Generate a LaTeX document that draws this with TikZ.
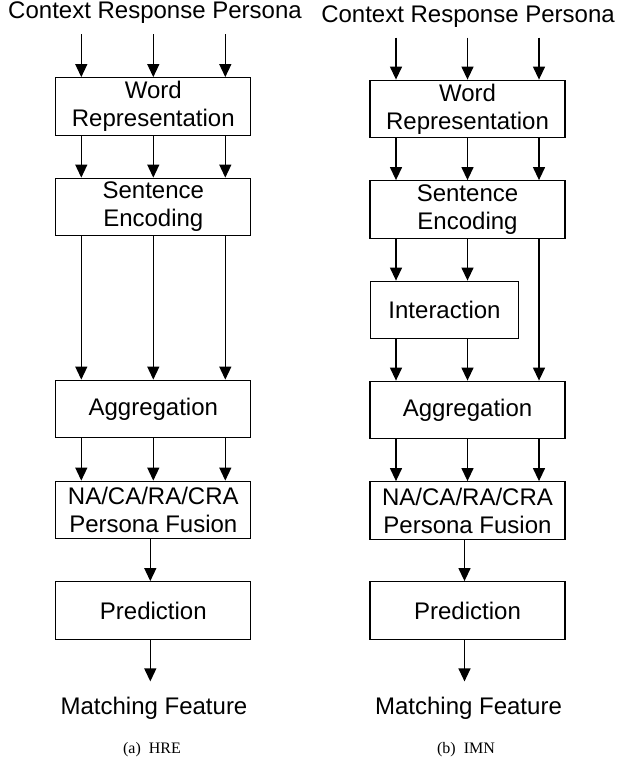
\documentclass[tikz,border=0pt]{standalone}
\usepackage{fontspec}
\setmainfont{Liberation Sans}
\newfontfamily\capfont{Liberation Serif}
\usetikzlibrary{arrows.meta}

\begin{document}
\begin{tikzpicture}
[x=1pt,y=-1pt,
 blk/.style={shape=rectangle,draw,line width=1.3pt,minimum height=57.5pt,inner sep=0pt,align=center,font=\fontsize{24}{28}\selectfont},
 wide/.style={blk,minimum width=195pt},
 twoline/.style={wide,execute at begin node={\rule{0pt}{21.5pt}}},
 lbl/.style={anchor=base,inner sep=0pt,inner ysep=10pt,font=\fontsize{24}{28}\selectfont},
 subcap/.style={anchor=base,inner sep=0pt,font=\capfont\fontsize{16}{19}\selectfont},
 flow/.style={line width=1.3pt,-{Triangle[length=13pt,width=12pt]}}]

\useasboundingbox (0,0) rectangle (619,765);

\draw (155,19) node (inl) [lbl] {Context Response Persona};
\draw (153.3,106.5) node (wl) [twoline] {Word\\Representation};
\draw (153.3,207) node (sl) [twoline] {Sentence\\Encoding};
\draw (153.3,409) node (al) [wide] {Aggregation};
\draw (153.3,510) node (fl) [twoline] {NA/CA/RA/CRA\\Persona Fusion};
\draw (153.3,610.5) node (pl) [wide] {Prediction};
\draw (154,714) node (ml) [lbl,inner ysep=15pt] {Matching Feature};
\draw (152,753) node (capl) [subcap] {(a)\enspace HRE};

\foreach \dx in {-72,0,72} {
  \draw [flow] ([xshift=\dx pt]wl.north |- inl.south) -- ([xshift=\dx pt]wl.north);
  \draw [flow] ([xshift=\dx pt]wl.south) -- ([xshift=\dx pt]sl.north);
  \draw [flow] ([xshift=\dx pt]sl.south) -- ([xshift=\dx pt]al.north);
  \draw [flow] ([xshift=\dx pt]al.south) -- ([xshift=\dx pt]fl.north);
}
\draw [flow] ([xshift=-3pt]fl.south) -- ([xshift=-3pt]pl.north);
\draw [flow] ([xshift=-3pt]pl.south) -- ([xshift=-3pt]pl.south |- ml.north);

\draw (468,22.5) node (inr) [lbl] {Context Response Persona};
\draw (467.5,109) node (wr) [twoline] {Word\\Representation};
\draw (467.5,209.5) node (sr) [twoline] {Sentence\\Encoding};
\draw (444.5,310) node (ir) [blk,minimum width=148pt] {Interaction};
\draw (467.5,410) node (ar) [wide] {Aggregation};
\draw (467.5,510.5) node (fr) [twoline] {NA/CA/RA/CRA\\Persona Fusion};
\draw (467.5,610.5) node (pr) [wide] {Prediction};
\draw (468.5,714) node (mr) [lbl,inner ysep=15pt] {Matching Feature};
\draw (466,753) node (capr) [subcap] {(b)\enspace IMN};

\foreach \dx in {-71.5,0,71.5} {
  \draw [flow] ([xshift=\dx pt]wr.north |- inr.south) -- ([xshift=\dx pt]wr.north);
  \draw [flow] ([xshift=\dx pt]wr.south) -- ([xshift=\dx pt]sr.north);
  \draw [flow] ([xshift=\dx pt]ar.south) -- ([xshift=\dx pt]fr.north);
}
\foreach \dx in {-71.5,0} {
  \draw [flow] ([xshift=\dx pt]sr.south) -- ([xshift=\dx pt]sr.south |- ir.north);
  \draw [flow] ([xshift=\dx pt]sr.south |- ir.south) -- ([xshift=\dx pt]ar.north);
}
\draw [flow] ([xshift=71.5pt]sr.south) -- ([xshift=71.5pt]ar.north);
\draw [flow] ([xshift=-3pt]fr.south) -- ([xshift=-3pt]pr.north);
\draw [flow] ([xshift=-3pt]pr.south) -- ([xshift=-3pt]pr.south |- mr.north);

\end{tikzpicture}
\end{document}
